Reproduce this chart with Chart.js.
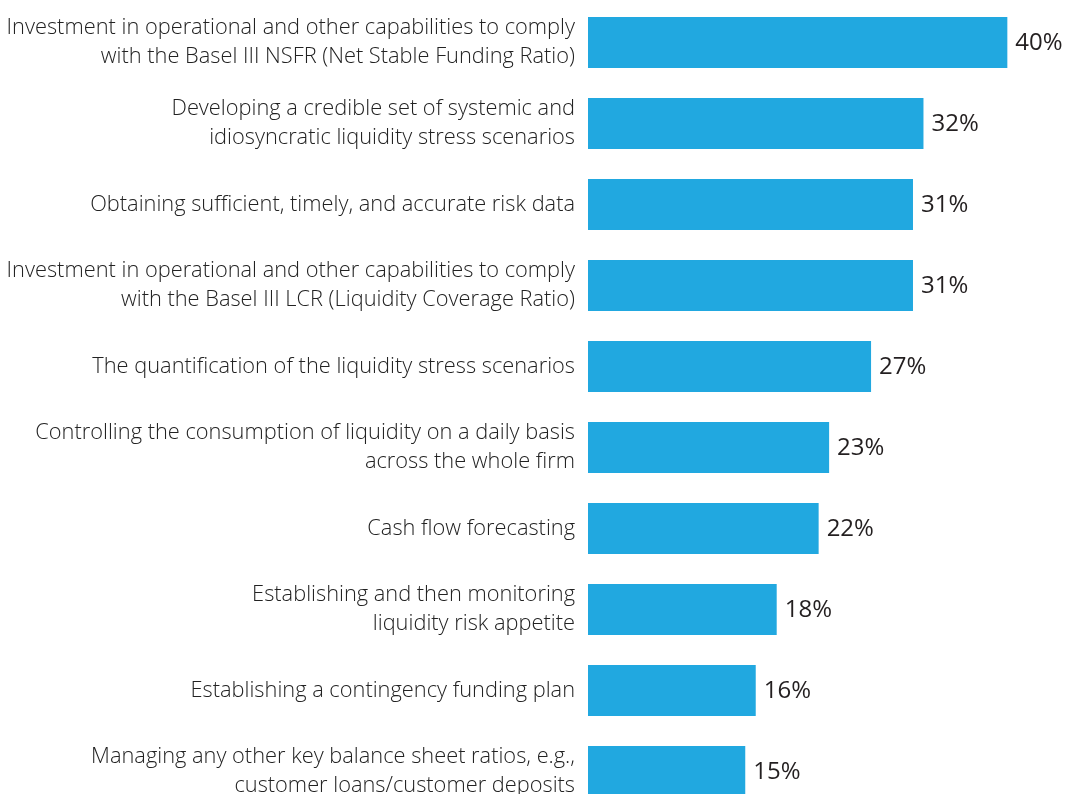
<!DOCTYPE html>
<html>
<head>
<meta charset="utf-8">
<script src="https://cdn.jsdelivr.net/npm/chart.js@4.4.1/dist/chart.umd.min.js"></script>
<style>
  html, body { margin: 0; padding: 0; background: #ffffff; overflow: hidden; }
  #wrap { position: absolute; left: 0; top: 0; width: 1065px; height: 812px; }
</style>
</head>
<body>
<div id="wrap"><canvas id="c"></canvas></div>
<script>
const categories = [
  ["Investment in operational and other capabilities to comply", "with the Basel III NSFR (Net Stable Funding Ratio)"],
  ["Developing a credible set of systemic and", "idiosyncratic liquidity stress scenarios"],
  ["Obtaining sufficient, timely, and accurate risk data"],
  ["Investment in operational and other capabilities to comply", "with the Basel III LCR (Liquidity Coverage Ratio)"],
  ["The quantification of the liquidity stress scenarios"],
  ["Controlling the consumption of liquidity on a daily basis", "across the whole firm"],
  ["Cash flow forecasting"],
  ["Establishing and then monitoring", "liquidity risk appetite"],
  ["Establishing a contingency funding plan"],
  ["Managing any other key balance sheet ratios, e.g.,", "customer loans/customer deposits"]
];
const values = [40, 32, 31, 31, 27, 23, 22, 18, 16, 15];
const valueLabels = values.map(v => v + "%");

const valuePlugin = {
  id: "valueLabels",
  afterDatasetsDraw(chart) {
    const ctx = chart.ctx;
    const meta = chart.getDatasetMeta(0);
    ctx.save();
    ctx.font = "400 24px 'Open Sans', sans-serif";
    ctx.fillStyle = "#231f20";
    ctx.textAlign = "left";
    ctx.textBaseline = "middle";
    meta.data.forEach((bar, i) => {
      ctx.fillText(valueLabels[i], bar.x + 8, bar.y + 1);
    });
    ctx.restore();
  }
};

new Chart(document.getElementById("c"), {
  type: "bar",
  data: {
    labels: categories,
    datasets: [{
      data: values,
      backgroundColor: "#21a8e0",
      borderWidth: 0,
      barPercentage: 0.63,
      categoryPercentage: 1.0
    }]
  },
  options: {
    indexAxis: "y",
    responsive: true,
    maintainAspectRatio: false,
    animation: false,
    layout: { padding: { top: 2, bottom: 0, left: 0, right: 0 } },
    plugins: { legend: { display: false }, tooltip: { enabled: false } },
    scales: {
      x: {
        display: false,
        min: 0,
        max: 45.5
      },
      y: {
        afterFit(scale) { scale.width = 588; scale.paddingTop = 0; scale.paddingBottom = 0; },
        grid: { display: false, drawTicks: false },
        border: { display: false },
        ticks: {
          padding: 13,
          color: "#222222",
          font: { family: "'Open Sans', sans-serif", size: 21.8, weight: 300, lineHeight: 1.35 }
        }
      }
    }
  },
  plugins: [valuePlugin]
});
</script>
</body>
</html>
